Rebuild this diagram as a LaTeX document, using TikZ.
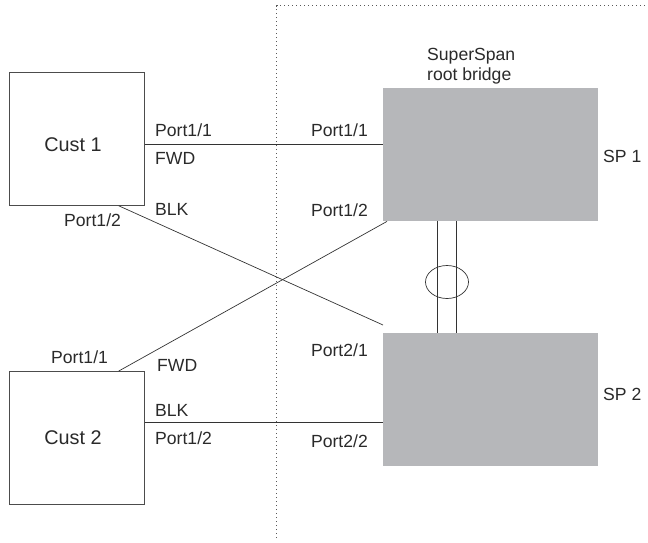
\documentclass[tikz,border=0pt]{standalone}
\usepackage{fontspec}
\setmainfont{Liberation Sans}
\begin{document}
\begin{tikzpicture}[x=1pt,y=-1pt,
  custbox/.style={draw=black!70,line width=0.8pt,fill=white,minimum width=135pt,minimum height=133pt,inner sep=0pt,anchor=north west},
  spbox/.style={fill=spgray,draw=none,minimum width=215pt,minimum height=133pt,inner sep=0pt,anchor=north west},
  lbl/.style={font=\fontsize{17.6}{19}\selectfont,text=txt,inner sep=0pt},
  big/.style={font=\fontsize{19.8}{22}\selectfont,text=txt,inner sep=0pt},
  link/.style={draw=black!80,line width=0.7pt},
  dotline/.style={draw=black!65,line width=1.2pt,dash pattern=on 1.2pt off 2.8pt}]
\definecolor{spgray}{HTML}{B6B7BA}
\definecolor{txt}{HTML}{2A2A2A}
\useasboundingbox (0,0) rectangle (648,542);
% dotted boundary
\coordinate (dtop) at (276.7,5.5);
\coordinate (dright) at (648,5.5);
\coordinate (dbot) at (276.7,538);
\draw[dotline] (dbot) -- (dtop) -- (dright);
% boxes
\node[custbox] (c1) at (9,72) {};
\node[custbox] (c2) at (9,371) {};
\node[spbox] (sp1) at (383,88) {};
\node[spbox] (sp2) at (383,333) {};
\node[big,anchor=base] (c1t) at (73,151) {Cust 1};
\node[big,anchor=base] (c2t) at (73,444) {Cust 2};
% links
\draw[link] (c1.east |- 0,144) coordinate (a1) -- (sp1.west |- a1);
\draw[link] ([xshift=-26pt]c1.south east) -- ([yshift=8pt]sp2.north west);
\draw[link] ([xshift=-26pt]c2.north east) -- ([xshift=4pt]sp1.south west);
\draw[link] (c2.east |- 0,422) coordinate (a2) -- (sp2.west |- a2);
\draw[link] ([xshift=54pt]sp1.south west) -- ([xshift=54pt]sp2.north west);
\draw[link] ([xshift=73pt]sp1.south west) -- ([xshift=73pt]sp2.north west);
\draw[link] (447,282) ellipse [x radius=21.5pt, y radius=16.5pt];
% labels
\node[lbl,anchor=base west] (l1) at (155,136) {Port1/1};
\node[lbl,anchor=base west] (l2) at (155,164) {FWD};
\node[lbl,anchor=base west] (l3) at (155,215) {BLK};
\node[lbl,anchor=base west] (l4) at (64,226) {Port1/2};
\node[lbl,anchor=base east] (r1) at (368,136) {Port1/1};
\node[lbl,anchor=base east] (r2) at (368,216) {Port1/2};
\node[lbl,anchor=base west] (ss1) at (427,60) {SuperSpan};
\node[lbl,anchor=base west] (ss2) at (427,80) {root bridge};
\node[lbl,anchor=base west] (sp1t) at (603,162) {SP 1};
\node[lbl,anchor=base west] (m1) at (51,363) {Port1/1};
\node[lbl,anchor=base west] (m2) at (157,371) {FWD};
\node[lbl,anchor=base west] (m3) at (155,416) {BLK};
\node[lbl,anchor=base west] (m4) at (155,444) {Port1/2};
\node[lbl,anchor=base east] (r3) at (368,356) {Port2/1};
\node[lbl,anchor=base east] (r4) at (368,447) {Port2/2};
\node[lbl,anchor=base west] (sp2t) at (603,400) {SP 2};
\end{tikzpicture}
\end{document}
